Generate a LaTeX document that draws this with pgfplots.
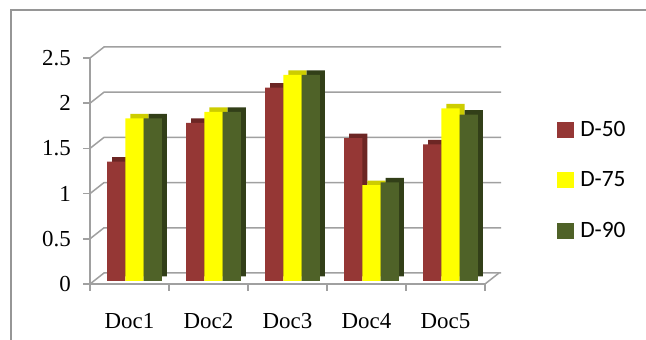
\documentclass[border=0pt]{standalone}
\usepackage{fontspec}
\setmainfont{Liberation Serif}
\newfontfamily\legfont{Carlito}
\usepackage{pgfplots}
\pgfplotsset{compat=1.18}
\definecolor{cRed}{RGB}{149,55,53}
\definecolor{cRedS}{RGB}{108,38,36}
\definecolor{cYel}{RGB}{255,255,0}
\definecolor{cYelS}{RGB}{205,205,0}
\definecolor{cGrn}{RGB}{79,98,40}
\definecolor{cGrnS}{RGB}{50,63,24}
\definecolor{gridc}{RGB}{160,160,160}
\definecolor{framec}{RGB}{150,150,150}
\begin{document}
\begin{tikzpicture}
\begin{axis}[
  set layers,
  at={(90bp,56bp)}, anchor=south west,
  scale only axis, width=395bp, height=226bp,
  xmin=-0.5, xmax=4.5, ymin=0, ymax=2.5,
  clip=false,
  axis x line*=bottom, axis y line*=left,
  axis line style={draw=gridc, line width=1.5bp},
  xtick={0,1,2,3,4},
  xticklabels={Doc1,Doc2,Doc3,Doc4,Doc5},
  ytick={0,0.5,1,1.5,2,2.5},
  yticklabels={0,0.5,1,1.5,2,2.5},
  tick align=outside, major tick length=7bp,
  tick style={draw=gridc, line width=1.5bp},
  xtick style={draw=none},
  tick label style={font=\fontsize{23}{27}\selectfont},
  yticklabel style={inner sep=0pt, xshift=-12bp},
  xticklabel style={anchor=base, inner sep=0pt, yshift=-38bp},
  legend style={draw=none, fill=none, at={(axis description cs:1.174,0.46)}, anchor=west,
    font=\legfont\fontsize{23.5}{27}\selectfont, row sep=30bp},
  legend cell align=left,
]
\addlegendimage{legend image code/.code={\fill[cRed] (0bp,-7.5bp) rectangle (16bp,7.5bp); \path (21bp,0bp);}}
\addlegendentry{D-50}
\addlegendimage{legend image code/.code={\fill[cYel] (0bp,-7.5bp) rectangle (16bp,7.5bp); \path (21bp,0bp);}}
\addlegendentry{D-75}
\addlegendimage{legend image code/.code={\fill[cGrn] (0bp,-7.5bp) rectangle (16bp,7.5bp); \path (21bp,0bp);}}
\addlegendentry{D-90}

\begin{pgfonlayer}{axis background}
\pgfplotsinvokeforeach{0,0.5,1,1.5,2,2.5}{
  \draw[gridc, line width=1.5bp] (axis cs:-0.5,#1) -- ([shift={(14bp,11bp)}]axis cs:-0.5,#1) -- ([shift={(16bp,11bp)}]axis cs:4.5,#1);
}
\draw[gridc, line width=1.5bp] (axis cs:4.5,0) -- ([shift={(14bp,11bp)}]axis cs:4.5,0);
\pgfplotsinvokeforeach{-0.5,0.5,1.5,2.5,3.5,4.5}{
  \draw[gridc, line width=1.5bp] (axis cs:#1,0) -- ([shift={(0bp,-7bp)}]axis cs:#1,0);
}
\end{pgfonlayer}

% D-50
\addplot[ybar, forget plot, bar width=18.2bp, bar shift=-8.2bp, fill=cRedS, draw=none, yshift=7.5bp]
  coordinates {(0,1.32) (1,1.75) (2,2.14) (3,1.58) (4,1.51)};
\addplot[ybar, forget plot, bar width=18.2bp, bar shift=-13.2bp, fill=cRed, draw=none, yshift=3bp]
  coordinates {(0,1.32) (1,1.75) (2,2.14) (3,1.58) (4,1.51)};
% D-75
\addplot[ybar, forget plot, bar width=18.2bp, bar shift=10bp, fill=cYelS, draw=none, yshift=7.5bp]
  coordinates {(0,1.80) (1,1.87) (2,2.28) (3,1.06) (4,1.91)};
\addplot[ybar, forget plot, bar width=18.2bp, bar shift=5bp, fill=cYel, draw=none, yshift=3bp]
  coordinates {(0,1.80) (1,1.87) (2,2.28) (3,1.06) (4,1.91)};
% D-90
\addplot[ybar, forget plot, bar width=18.2bp, bar shift=28.2bp, fill=cGrnS, draw=none, yshift=7.5bp]
  coordinates {(0,1.80) (1,1.87) (2,2.28) (3,1.09) (4,1.84)};
\addplot[ybar, forget plot, bar width=18.2bp, bar shift=23.2bp, fill=cGrn, draw=none, yshift=3bp]
  coordinates {(0,1.80) (1,1.87) (2,2.28) (3,1.09) (4,1.84)};
\end{axis}
\draw[framec, line width=1.5bp] (11bp,-5bp) -- (11bp,330bp) -- (660bp,330bp);
\pgfresetboundingbox
\path (0bp,0bp) rectangle (646bp,340bp);
\end{tikzpicture}
\end{document}
